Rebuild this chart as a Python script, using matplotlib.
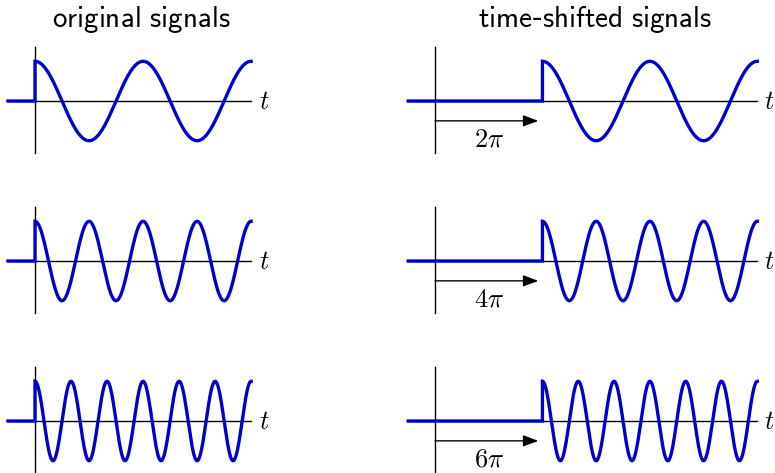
import numpy as np
import matplotlib
matplotlib.use("Agg")
import matplotlib.pyplot as plt

plt.rcParams['mathtext.fontset'] = 'cm'

# data
freqs = [1, 2, 3]                      # angular frequency of each row
shift_labels = [r'$2\pi$', r'$4\pi$', r'$6\pi$']
shift = 2 * np.pi                      # shift drawn on the common time axis
t_start = -np.pi / 2
t_end_orig = 4 * np.pi
t_end_shift = 6 * np.pi
titles = [r'$\mathsf{original\ signals}$', r'$\mathsf{time}$-$\mathsf{shifted\ signals}$']

W, H = 775, 473
fig = plt.figure(figsize=(W / 100, H / 100), dpi=100)

blue = (0.0, 0.0, 0.8)
row_base = [101, 261, 421]
sy = 39.7

def make_ax(x0px, x1px, orig_px, sx, yb):
    ax = fig.add_axes([x0px / W, 1 - (yb + 80) / H, (x1px - x0px) / W, 160 / H])
    ax.set_xlim((x0px - orig_px) / sx, (x1px - orig_px) / sx)
    ax.set_ylim(-80 / sy, 80 / sy)
    ax.axis('off')
    return ax

for r, w in enumerate(freqs):
    yb = row_base[r]
    # original
    ax = make_ax(0, 280, 35, 17.2, yb)
    ax.plot([t_start, t_end_orig], [0, 0], color='k', lw=1.0)
    ax.plot([0, 0], [-52 / sy, 54 / sy], color='k', lw=1.0)
    tt = np.linspace(0, t_end_orig, 800)
    t = np.concatenate([[t_start, 0], tt])
    y = np.concatenate([[0, 0], np.cos(w * tt)])
    ax.plot(t, y, color=blue, lw=2.4, solid_joinstyle='miter')
    ax.text(t_end_orig + 0.45, -0.02, r'$t$', fontsize=19, va='center', ha='left')

    # shifted
    ax = make_ax(395, 775, 435, 17.1, yb)
    ax.plot([t_start, t_end_shift], [0, 0], color='k', lw=1.0)
    ax.plot([0, 0], [-52 / sy, 54 / sy], color='k', lw=1.0)
    tt = np.linspace(shift, t_end_shift, 1000)
    t = np.concatenate([[t_start, shift], tt])
    y = np.concatenate([[0, 0], np.cos(w * (tt - shift))])
    ax.plot(t, y, color=blue, lw=2.4, solid_joinstyle='miter')
    ax.text(t_end_shift + 0.4, -0.02, r'$t$', fontsize=19, va='center', ha='left')
    ax.annotate('', xy=(shift, -0.5), xytext=(0, -0.5),
                arrowprops=dict(arrowstyle='-|>,head_length=0.4,head_width=0.15',
                                mutation_scale=23, lw=1.0, color='k',
                                shrinkA=0, shrinkB=3))
    ax.text(shift / 2, -0.98, shift_labels[r], fontsize=19, ha='center', va='center')

fig.text(141 / W, 1 - 27 / H, titles[0], fontsize=21, ha='center', va='baseline')
fig.text(595 / W, 1 - 27 / H, titles[1], fontsize=21, ha='center', va='baseline')

fig.savefig('out.png', dpi=100)
